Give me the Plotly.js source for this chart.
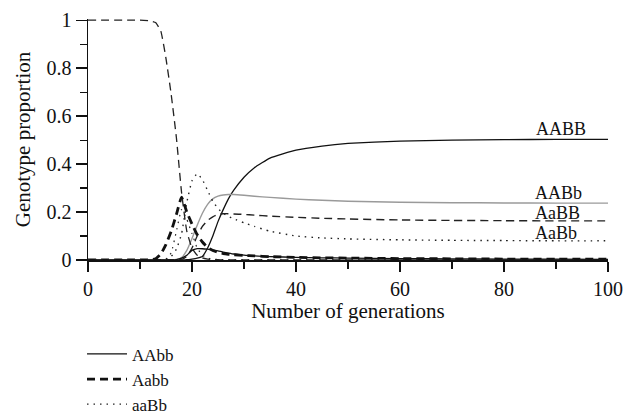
<!DOCTYPE html>
<html>
<head>
<meta charset="utf-8">
<script src="https://cdn.plot.ly/plotly-3.0.1.min.js"></script>
<style>html,body{margin:0;padding:0;background:#fff;}#chart{width:635px;height:418px;}</style>
</head>
<body>
<div id="chart"></div>
<script>
// generations (x values)
const gens = [0, 10, 12, 13, 14, 15, 16, 17, 18, 19, 20, 21, 22, 23, 24, 25, 26, 27, 28, 30, 32, 35, 40, 45, 50, 60, 70, 80, 90, 100];

// genotype proportions
const aabb = [1, 1, 0.997, 0.99, 0.955, 0.84, 0.69, 0.51, 0.28, 0.12, 0.05, 0.02, 0.009, 0.004, 0.002, 0.001, 0, 0, 0, 0, 0, 0, 0, 0, 0, 0, 0, 0, 0, 0];
const Aabb = [0, 0, 0.001, 0.005, 0.025, 0.065, 0.12, 0.19, 0.262, 0.2, 0.15, 0.105, 0.075, 0.052, 0.04, 0.032, 0.027, 0.024, 0.022, 0.019, 0.017, 0.014, 0.011, 0.009, 0.008, 0.006, 0.005, 0.004, 0.004, 0.003];
const aaBb = [0, 0, 0, 0, 0, 0.003, 0.03, 0.12, 0.21, 0.17, 0.11, 0.05, 0.02, 0.008, 0.004, 0.002, 0.002, 0.001, 0.001, 0.001, 0.001, 0, 0, 0, 0, 0, 0, 0, 0, 0];
const AAbb = [0, 0, 0, 0, 0, 0, 0, 0.002, 0.008, 0.02, 0.04, 0.047, 0.047, 0.045, 0.042, 0.038, 0.033, 0.029, 0.025, 0.02, 0.017, 0.014, 0.011, 0.009, 0.008, 0.006, 0.005, 0.004, 0.004, 0.003];
const AABB = [0, 0, 0, 0, 0, 0, 0, 0, 0, 0.001, 0.004, 0.008, 0.015, 0.05, 0.1, 0.16, 0.21, 0.255, 0.29, 0.345, 0.385, 0.425, 0.458, 0.475, 0.486, 0.496, 0.5, 0.502, 0.503, 0.503];
const AABb = [0, 0, 0, 0, 0, 0, 0, 0.002, 0.01, 0.04, 0.09, 0.145, 0.195, 0.232, 0.255, 0.266, 0.271, 0.273, 0.273, 0.27, 0.266, 0.261, 0.254, 0.249, 0.245, 0.241, 0.239, 0.238, 0.237, 0.237];
const AaBB = [0, 0, 0, 0, 0, 0, 0, 0, 0.002, 0.015, 0.05, 0.1, 0.14, 0.165, 0.18, 0.19, 0.193, 0.193, 0.192, 0.19, 0.187, 0.183, 0.178, 0.174, 0.171, 0.167, 0.165, 0.164, 0.163, 0.163];
const AaBb = [0, 0, 0, 0, 0.001, 0.004, 0.015, 0.045, 0.11, 0.24, 0.33, 0.36, 0.335, 0.29, 0.245, 0.215, 0.195, 0.182, 0.172, 0.155, 0.14, 0.12, 0.1, 0.092, 0.088, 0.084, 0.082, 0.081, 0.08, 0.08];

const xTicks = [0, 20, 40, 60, 80, 100];
const yTicks = [0, 0.2, 0.4, 0.6, 0.8, 1];
const yTickText = ['0', '0.2', '0.4', '0.6', '0.8', '1'];

const FONT = 'Liberation Serif, Times New Roman, serif';

function tr(name, y, line, show) {
  return {x: gens, y: y, name: name, type: 'scatter', mode: 'lines',
          line: Object.assign({shape: 'spline', smoothing: 0.4}, line),
          showlegend: show, hoverinfo: 'skip'};
}

const data = [
  tr('AABB', AABB, {color: '#111', width: 1.3}, false),
  tr('AABb', AABb, {color: '#9a9a9a', width: 1.4}, false),
  tr('AaBB', AaBB, {color: '#222', width: 1.4, dash: '8px,5px'}, false),
  tr('AaBb', AaBb, {color: '#222', width: 1.4, dash: '1.5px,5px'}, false),
  tr('aabb', aabb, {color: '#222', width: 1.3, dash: '8px,5px'}, false),
  tr('AAbb', AAbb, {color: '#111', width: 1.3}, true),
  tr('Aabb', Aabb, {color: '#111', width: 2.8, dash: '8px,5px'}, true),
  tr('aaBb', aaBb, {color: '#222', width: 1.2, dash: '1.5px,5px'}, true)
];

const labFont = {family: FONT, size: 18, color: '#111'};
const annotations = [
  {x: 13, y: 1.021, text: 'aabb', xanchor: 'left', yanchor: 'middle', showarrow: false, font: {family: FONT, size: 19, color: '#111'}},
  {x: 85.8, y: 0.545, text: 'AABB', xanchor: 'left', yanchor: 'middle', showarrow: false, font: labFont},
  {x: 85.8, y: 0.278, text: 'AABb', xanchor: 'left', yanchor: 'middle', showarrow: false, font: labFont, borderpad: 0},
  {x: 85.8, y: 0.196, text: 'AaBB', xanchor: 'left', yanchor: 'middle', showarrow: false, font: labFont, borderpad: 0},
  {x: 85.8, y: 0.114, text: 'AaBb', xanchor: 'left', yanchor: 'middle', showarrow: false, font: labFont, borderpad: 0}
];

const layout = {
  width: 635, height: 418,
  margin: {l: 88, r: 27, t: 19, b: 158, autoexpand: false},
  paper_bgcolor: '#fff', plot_bgcolor: '#fff',
  font: {family: FONT, size: 20, color: '#111'},
  xaxis: {
    range: [0, 100], tickvals: xTicks, ticktext: xTicks.map(String),
    showgrid: false, zeroline: false, showline: true, linecolor: '#111', linewidth: 1.5,
    ticks: 'outside', ticklen: 10, tickwidth: 1.4, tickcolor: '#111',
    minor: {dtick: 10, ticks: 'outside', ticklen: 7, tickwidth: 1.2, tickcolor: '#111', showgrid: false},
    tickfont: {family: FONT, size: 20, color: '#111'},
    title: {text: 'Number of generations', font: {family: FONT, size: 21, color: '#111'}, standoff: 4},
    automargin: false, fixedrange: true
  },
  yaxis: {
    range: [0, 1.005], tickvals: yTicks, ticktext: yTickText,
    showgrid: false, zeroline: false, showline: true, linecolor: '#111', linewidth: 1.4,
    ticks: 'outside', ticklen: 11, tickwidth: 1.4, tickcolor: '#111',
    minor: {dtick: 0.1, ticks: 'outside', ticklen: 7, tickwidth: 1.2, tickcolor: '#111', showgrid: false},
    tickfont: {family: FONT, size: 20, color: '#111'},
    title: {text: 'Genotype proportion', font: {family: FONT, size: 21, color: '#111'}, standoff: 10},
    automargin: false, fixedrange: true
  },
  showlegend: true,
  legend: {
    x: -0.0115, xanchor: 'left', y: -0.317, yanchor: 'top',
    orientation: 'v', bgcolor: 'rgba(0,0,0,0)',
    font: {family: FONT, size: 17, color: '#111'},
    itemwidth: 40, tracegroupgap: 0
  },
  annotations: annotations
};

Plotly.newPlot('chart', data, layout, {displayModeBar: false, staticPlot: true});
</script>
</body>
</html>
